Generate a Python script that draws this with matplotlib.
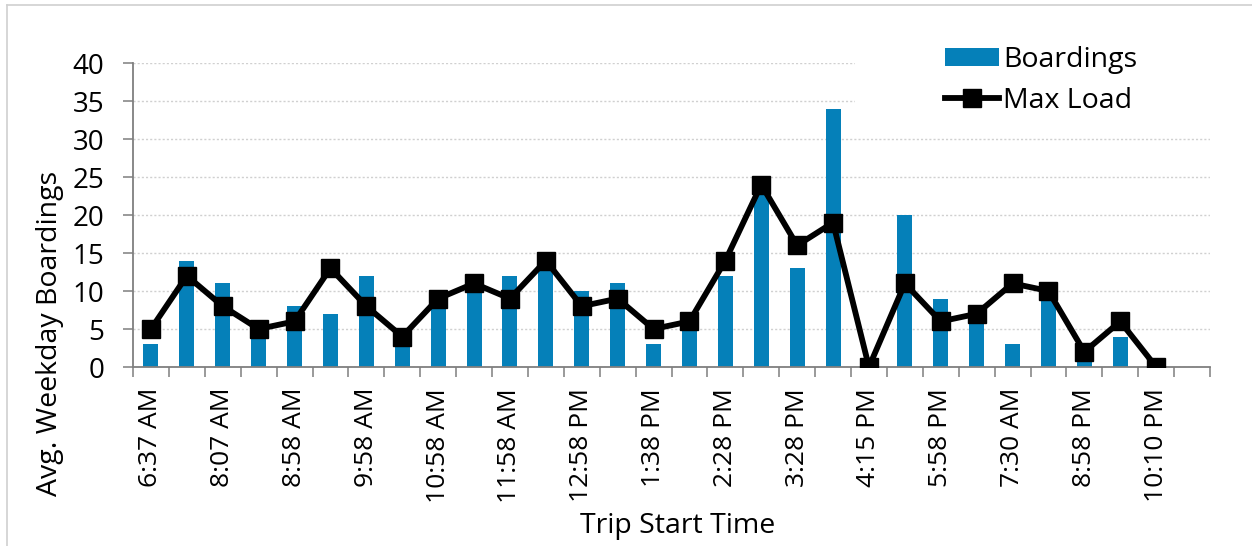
import numpy as np
import matplotlib
matplotlib.use("Agg")
import matplotlib.pyplot as plt
from matplotlib.patches import Rectangle
from matplotlib.lines import Line2D

plt.rcParams['font.family'] = ['Open Sans', 'DejaVu Sans']

# one label for every second trip
tick_labels = ["6:37 AM", "8:07 AM", "8:58 AM", "9:58 AM", "10:58 AM", "11:58 AM",
               "12:58 PM", "1:38 PM", "2:28 PM", "3:28 PM", "4:15 PM", "5:58 PM",
               "7:30 AM", "8:58 PM", "10:10 PM"]
boardings = [3, 14, 11, 4, 8, 7, 12, 4, 9, 11, 12, 13, 10, 11, 3, 6, 12, 23, 13, 34,
             0, 20, 9, 7, 3, 10, 1, 4, 0, np.nan]
max_load = [5, 12, 8, 5, 6, 13, 8, 4, 9, 11, 9, 14, 8, 9, 5, 6, 14, 24, 16, 19,
            0, 11, 6, 7, 11, 10, 2, 6, 0, np.nan]

n = len(boardings)
x = np.arange(n)
bar_color = "#0580B9"
axis_color = "#7f7f7f"

fig = plt.figure(figsize=(12.52, 5.46), dpi=100)
ax = fig.add_axes([133 / 1252, 1 - 367 / 546, 1077 / 1252, 304 / 546])

bars = ax.bar(x, boardings, width=0.42, color=bar_color, zorder=2, label="Boardings")
line, = ax.plot(x, max_load, color="black", lw=4.2, marker="s", ms=12.5,
                zorder=3, label="Max Load")

ax.set_xlim(-0.5, n - 0.5)
ax.set_ylim(0, 40)
ax.set_yticks(range(0, 41, 5))
ax.set_xticks(x[::2][:len(tick_labels)])
ax.set_xticklabels(tick_labels, rotation=90)
ax.set_xticks(np.arange(-0.5, n, 1), minor=True)

ax.tick_params(axis="x", which="major", length=0, pad=15, labelsize=19)
ax.tick_params(axis="x", which="minor", length=7.5, width=1.1, color=axis_color, direction="out")
ax.tick_params(axis="y", length=7.5, width=1.1, color=axis_color, pad=13, labelsize=20)

ax.grid(axis="y", color="#d0d0d0", linestyle=(0, (1.5, 1.5)), lw=1)
ax.set_axisbelow(True)
for s in ["top", "right"]:
    ax.spines[s].set_visible(False)
for s in ["left", "bottom"]:
    ax.spines[s].set_color(axis_color)
    ax.spines[s].set_linewidth(1.3)

# legend area hides the top gridlines
ax.add_patch(Rectangle((0.67, 0.862), 0.4, 0.2, transform=ax.transAxes,
                       facecolor="white", edgecolor="none", zorder=1, clip_on=False))

ax.set_ylabel("Avg. Weekday Boardings", fontsize=20.5, va="center")
ax.yaxis.set_label_coords(-0.077, 0.109)
ax.set_xlabel("Trip Start Time", fontsize=20.5, va="center")
ax.xaxis.set_label_coords(0.506, -0.523)

leg = ax.legend([bars, line], ["Boardings", "Max Load"],
                loc="upper left", bbox_to_anchor=(945 / 1252, 1 - 46 / 546),
                bbox_transform=fig.transFigure, frameon=False, fontsize=20.5,
                handlelength=1.9, handleheight=0.6, handletextpad=0.15,
                labelspacing=0.45, borderpad=0, borderaxespad=0)

# chart-area border (cut at right/bottom in the source)
fig.add_artist(Line2D([6.5 / 1252, 1], [1 - 4.5 / 546] * 2, color="#d0d0d0", lw=1.2))
fig.add_artist(Line2D([6.5 / 1252] * 2, [0, 1 - 4.5 / 546], color="#d0d0d0", lw=1.2))

fig.savefig("out.png", dpi=100)
